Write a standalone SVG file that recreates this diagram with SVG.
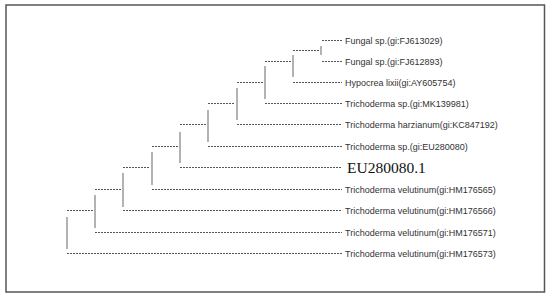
<svg xmlns="http://www.w3.org/2000/svg" width="550" height="297" viewBox="0 0 550 297">
<style>
.h{stroke:#555;stroke-width:1;stroke-dasharray:2 1;fill:none}
.v{stroke:#8a8a8a;stroke-width:1.3;fill:none}
.t{font-family:"Liberation Sans",Arial,sans-serif;font-size:9px;fill:#333}
.big{font-family:"Liberation Serif","Times New Roman",serif;font-size:15.5px;fill:#111}
</style>
<rect x="0" y="0" width="550" height="297" fill="#fff"/>
<rect x="6" y="5" width="538.5" height="287" fill="#fff" stroke="#555" stroke-width="1.5"/>
<g id="connectors">
  <!-- leaf branches -->
  <path class="h" d="M322 40.5H342M322 61.5H342M293 82.5H342M265 103.5H342M237 124.5H342M208 146.5H342M180 167.5H341M152 189.5H342M123 210.5H342M95 232.5H342M67 253.5H342"/>
  <!-- internal branches -->
  <path class="h" d="M293 50.5H320M265 61.5H292M237 82.5H263M208 103.5H235M180 124.5H207M152 146.5H178M123 167.5H150M95 189.5H122M67 210.5H93"/>
  <!-- verticals -->
  <path class="v" d="M321 46V55M293 55V77M265 66V99M237 88V120M208 110V142M180 132V163M152 152V185M123 173V207M95 195V228M67 217V249"/>
</g>
<g id="n1"><text class="t" x="345" y="43.5">Fungal sp.(gi:FJ613029)</text></g>
<g id="n2"><text class="t" x="345" y="64.5">Fungal sp.(gi:FJ612893)</text></g>
<g id="n3"><text class="t" x="345" y="85.5">Hypocrea lixii(gi:AY605754)</text></g>
<g id="n4"><text class="t" x="345" y="106.5">Trichoderma sp.(gi:MK139981)</text></g>
<g id="n5"><text class="t" x="345" y="127.5">Trichoderma harzianum(gi:KC847192)</text></g>
<g id="n6"><text class="t" x="345" y="149.5">Trichoderma sp.(gi:EU280080)</text></g>
<g id="n7"><text class="big" x="347" y="173">EU280080.1</text></g>
<g id="n8"><text class="t" x="345" y="192.5">Trichoderma velutinum(gi:HM176565)</text></g>
<g id="n9"><text class="t" x="345" y="213.5">Trichoderma velutinum(gi:HM176566)</text></g>
<g id="n10"><text class="t" x="345" y="235.5">Trichoderma velutinum(gi:HM176571)</text></g>
<g id="n11"><text class="t" x="345" y="256.5">Trichoderma velutinum(gi:HM176573)</text></g>
</svg>
